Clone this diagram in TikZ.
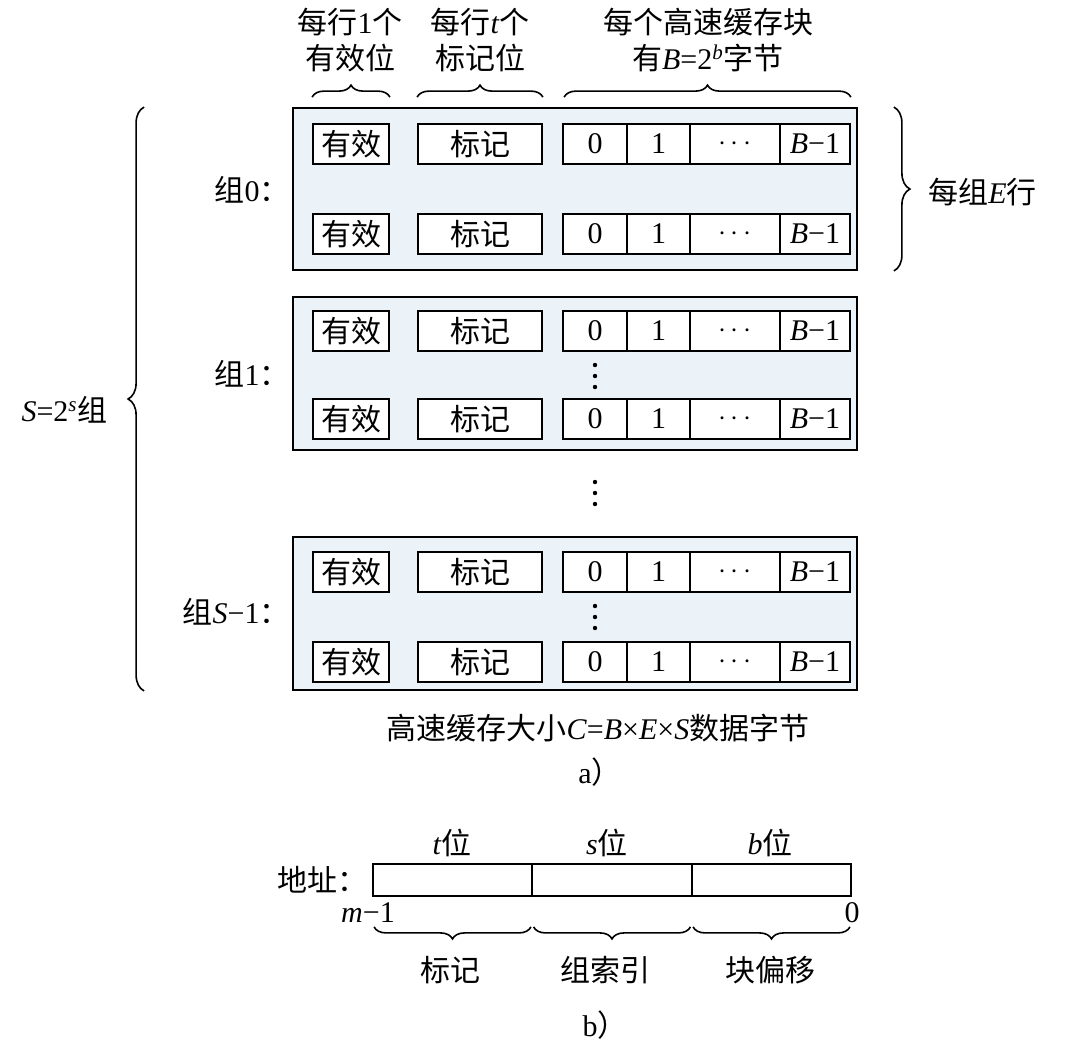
\documentclass[tikz,border=0pt]{standalone}
\usepackage{fontspec}
\setmainfont{Liberation Serif}
\newfontfamily\cjk{Noto Sans CJK SC}
\usetikzlibrary{decorations.pathreplacing}
\definecolor{groupfill}{RGB}{236,243,248}
\tikzset{
  cellbox/.style={draw, line width=0.9pt, minimum height=20pt, inner sep=0pt, fill=white,
    font=\fontsize{15}{17}\selectfont},
  groupbox/.style={draw, line width=0.9pt, fill=groupfill, inner sep=0pt},
  addrbox/.style={draw, line width=0.9pt, minimum height=16pt, minimum width=79.5pt, inner sep=0pt},
  lbl/.style={font=\fontsize{15}{18}\selectfont, inner sep=0pt, align=center},
  brc/.style={decorate, decoration={brace, amplitude=6pt}, line width=0.8pt},
  bigbrc/.style={decorate, decoration={brace, amplitude=8pt}, line width=0.8pt},
  brcm/.style={decorate, decoration={brace, amplitude=6pt, mirror}, line width=0.8pt},
  vdot/.style={fill, circle, inner sep=0pt, minimum size=2.2pt},
}
\newcommand\cacherowdraw[2]{%
  \node[cellbox, minimum width=38pt] (#1v) at (351,#2) {\cjk 有效};
  \node[cellbox, minimum width=62pt] (#1t) at (480,#2) {\cjk 标记};
  \node[cellbox, minimum width=32pt] (#1c0) at (595,#2) {0};
  \node[cellbox, minimum width=31.5pt] (#1c1) at (658.5,#2) {1};
  \node[cellbox, minimum width=45pt] (#1cd) at (735,#2) {$\cdots$};
  \node[cellbox, minimum width=35pt] (#1cb) at (815,#2) {\textit{B}−1};
}
\newcommand\vdotsat[2]{%
  \node[vdot] (#1a) at (595,#2-11) {};
  \node[vdot] (#1b) at (595,#2) {};
  \node[vdot] (#1c) at (595,#2+11) {};
}
\begin{document}
\begin{tikzpicture}[x=0.5pt, y=-0.5pt]
\useasboundingbox (0,0) rectangle (1080,1046);
% top labels
\node[lbl] (h1) at (350,40) {{\cjk 每行}1{\cjk 个}\\{\cjk 有效位}};
\node[lbl] (h2) at (480,40) {{\cjk 每行}\textit{t}{\cjk 个}\\{\cjk 标记位}};
\node[lbl] (h3) at (708,40) {{\cjk 每个高速缓存块}\\{\cjk 有}\textit{B}=2\textsuperscript{\textit{b}}{\cjk 字节}};
% group boxes
\node[groupbox, minimum width=282pt, minimum height=81pt] (g0) at (575,189) {};
\node[groupbox, minimum width=282pt, minimum height=76.5pt] (g1) at (575,373.5) {};
\node[groupbox, minimum width=282pt, minimum height=76.5pt] (g2) at (575,613.5) {};
% rows
\cacherowdraw{ra}{144}
\cacherowdraw{rb}{234}
\cacherowdraw{rc}{331}
\cacherowdraw{rd}{419}
\cacherowdraw{re}{572}
\cacherowdraw{rf}{662}
% vertical dots
\vdotsat{da}{376}
\vdotsat{db}{493}
\vdotsat{dc}{617}
% group labels
\node[lbl, anchor=east] (l0) at (290,190) {{\cjk 组}0{\cjk ：}};
\node[lbl, anchor=east] (l1) at (290,374) {{\cjk 组}1{\cjk ：}};
\node[lbl, anchor=east] (l2) at (290,612) {{\cjk 组}\textit{S}−1{\cjk ：}};
% top braces
\draw[brc] ([yshift=13pt]rav.north west) -- ([yshift=13pt]rav.north east);
\draw[brc] ([yshift=13pt]rat.north west) -- ([yshift=13pt]rat.north east);
\draw[brc] ([yshift=13pt,xshift=1pt]rac0.north west) -- ([yshift=13pt]racb.north east);
% right brace
\draw[bigbrc] ([xshift=18pt]g0.north east) -- ([xshift=18pt]g0.south east);
\node[lbl, anchor=west] (elbl) at (928,192) {{\cjk 每组}\textit{E}{\cjk 行}};
% left brace
\draw[bigbrc] ([xshift=-74pt]g2.south west) -- ([xshift=-74pt]g0.north west);
\node[lbl, anchor=east] (slbl) at (108,410) {\textit{S}=2\textsuperscript{\textit{s}}{\cjk 组}};
% caption a
\node[lbl] (capa) at (598,728) {{\cjk 高速缓存大小}\textit{C}=\textit{B}×\textit{E}×\textit{S}{\cjk 数据字节}};
\node[lbl] (suba) at (600,772) {a{\cjk ）}};
% part b
\node[addrbox] (a1) at (452.5,880) {};
\node[addrbox] (a2) at (612,880) {};
\node[addrbox] (a3) at (771.5,880) {};
\node[lbl, anchor=east] (addr) at (368,880) {{\cjk 地址：}};
\node[lbl] (tb) at (452,843) {\textit{t}{\cjk 位}};
\node[lbl] (sb) at (607,843) {\textit{s}{\cjk 位}};
\node[lbl] (bb) at (770,843) {\textit{b}{\cjk 位}};
\node[lbl] (mm) at (368,913) {\textit{m}−1};
\node[lbl] (zz) at (852,913) {0};
\draw[brcm] ([yshift=-15pt,xshift=1pt]a1.south west) -- ([yshift=-15pt,xshift=-1pt]a1.south east);
\draw[brcm] ([yshift=-15pt,xshift=1pt]a2.south west) -- ([yshift=-15pt,xshift=-1pt]a2.south east);
\draw[brcm] ([yshift=-15pt,xshift=1pt]a3.south west) -- ([yshift=-15pt,xshift=-1pt]a3.south east);
\node[lbl] (k1) at (450,970) {\cjk 标记};
\node[lbl] (k2) at (605,970) {\cjk 组索引};
\node[lbl] (k3) at (770,970) {\cjk 块偏移};
\node[lbl] (subb) at (605,1025) {b{\cjk ）}};
\end{tikzpicture}
\end{document}
